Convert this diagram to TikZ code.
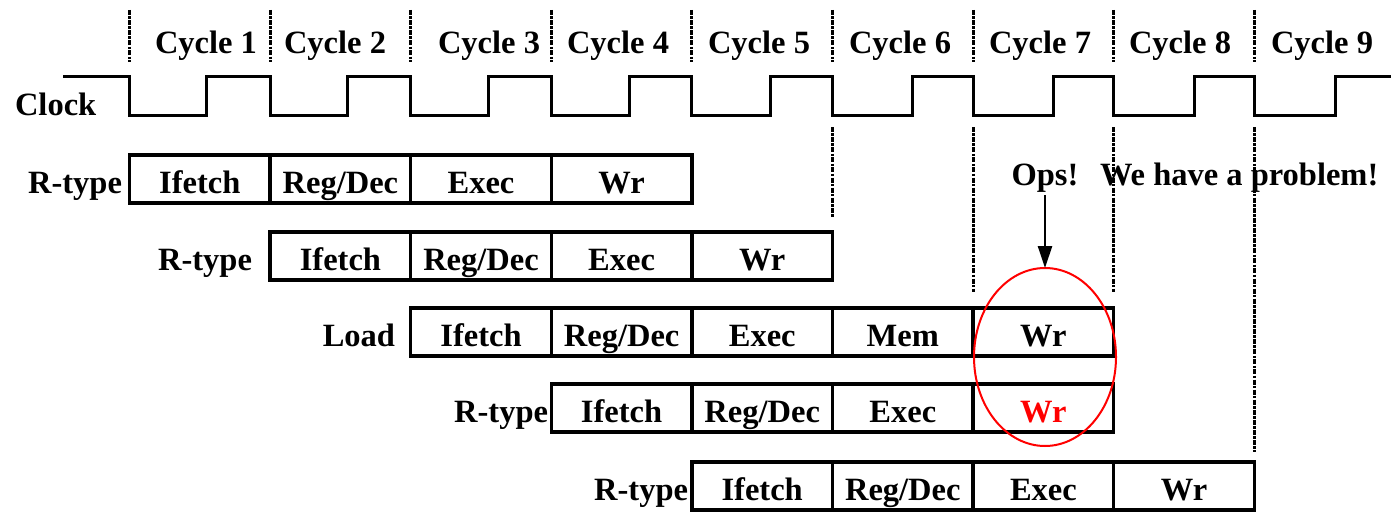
\documentclass[tikz,border=0pt]{standalone}
\usepackage{fontspec}
\setmainfont{Liberation Serif}
\newfontfamily\tnrfont{Liberation Serif}
\usetikzlibrary{shapes.geometric,arrows.meta}
\begin{document}
\begin{tikzpicture}[x=1pt,y=-1pt,
  every node/.style={font=\tnrfont\fontsize{32.5}{36}\selectfont\bfseries, inner sep=0pt, outer sep=0pt, text height=28pt, text depth=0pt},
  stagebox/.style={draw, line width=3.5pt, fill=white, minimum width=140.6pt, minimum height=48pt, anchor=north west},
  rowlabel/.style={anchor=east},
  cyclabel/.style={anchor=center},
  cycdash/.style={line width=3pt, dash pattern=on 5pt off 1.3pt on 2.5pt off 1.3pt},
  clockline/.style={line width=3pt, line join=miter},
  hazard/.style={ellipse, draw=red, line width=2pt, minimum width=142pt, minimum height=178pt, text height=0pt},
  pointer/.style={line width=2.5pt, -{Triangle[length=22pt,width=14pt]}}
]
\useasboundingbox (0,0) rectangle (1391,511);

% top dashed cycle separators
\foreach \k in {0,...,8}{
  \draw[cycdash] ({129.5+140.6*\k},10) -- ({129.5+140.6*\k},62);
}
% cycle labels
\node[cyclabel] (c1) at (206,39) {Cycle 1};
\node[cyclabel] (c2) at (335,39) {Cycle 2};
\node[cyclabel] (c3) at (489,39) {Cycle 3};
\node[cyclabel] (c4) at (618,39) {Cycle 4};
\node[cyclabel] (c5) at (759,39) {Cycle 5};
\node[cyclabel] (c6) at (900,39) {Cycle 6};
\node[cyclabel] (c7) at (1040,39) {Cycle 7};
\node[cyclabel] (c8) at (1180,39) {Cycle 8};
\node[cyclabel] (c9) at (1322,39) {Cycle 9};

% clock
\node[anchor=west] (clk) at (15,101) {Clock};
\draw[clockline] (63,76)
  \foreach \k in {0,...,8}{
    -- ({129.5+140.6*\k},76) -- ({129.5+140.6*\k},115)
    -- ({206.5+141.1*\k},115) -- ({206.5+141.1*\k},76)
  } -- (1395,76);

% middle dashed separators
\draw[cycdash] (832.5,127) -- (832.5,217);
\draw[cycdash] (973.1,127) -- (973.1,292);
\draw[cycdash] (1113.7,127) -- (1113.7,292);
\draw[cycdash] (1254.3,127) -- (1254.3,452);

% row 1
\node[rowlabel] (l1) at (122,179) {R-type};
\node[stagebox] (r1a) at (129.5,155) {Ifetch};
\node[stagebox] (r1b) at (r1a.north east) {Reg/Dec};
\node[stagebox] (r1c) at (r1b.north east) {Exec};
\node[stagebox] (r1d) at (r1c.north east) {Wr};

% row 2
\node[rowlabel] (l2) at (252,256) {R-type};
\node[stagebox] (r2a) at (270.1,232) {Ifetch};
\node[stagebox] (r2b) at (r2a.north east) {Reg/Dec};
\node[stagebox] (r2c) at (r2b.north east) {Exec};
\node[stagebox] (r2d) at (r2c.north east) {Wr};

% row 3
\node[rowlabel] (l3) at (395,332) {Load};
\node[stagebox] (r3a) at (410.7,308) {Ifetch};
\node[stagebox] (r3b) at (r3a.north east) {Reg/Dec};
\node[stagebox] (r3c) at (r3b.north east) {Exec};
\node[stagebox] (r3d) at (r3c.north east) {Mem};
\node[stagebox] (r3e) at (r3d.north east) {Wr};

% row 4
\node[rowlabel] (l4) at (548,408) {R-type};
\node[stagebox] (r4a) at (551.3,384) {Ifetch};
\node[stagebox] (r4b) at (r4a.north east) {Reg/Dec};
\node[stagebox] (r4c) at (r4b.north east) {Exec};
\node[stagebox, text=red] (r4d) at (r4c.north east) {Wr};

% row 5
\node[rowlabel] (l5) at (688,486) {R-type};
\node[stagebox] (r5a) at (691.9,462) {Ifetch};
\node[stagebox] (r5b) at (r5a.north east) {Reg/Dec};
\node[stagebox] (r5c) at (r5b.north east) {Exec};
\node[stagebox] (r5d) at (r5c.north east) {Wr};

% hazard annotation
\node[hazard] (ell) at (1045,357) {};
\node[anchor=center] (ops) at (1045,171) {Ops!};
\node[anchor=west] (prob) at (1100,171) {We have a problem!};
\draw[pointer, shorten <=10pt] (ops.south) -- (ell.north);
\end{tikzpicture}
\end{document}
